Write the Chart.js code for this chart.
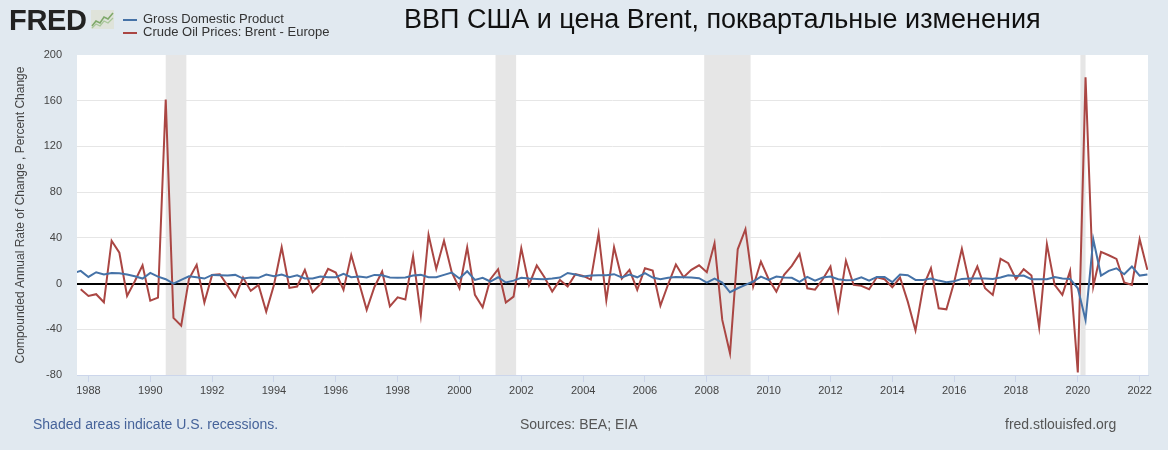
<!DOCTYPE html>
<html>
<head>
<meta charset="utf-8">
<script src="https://cdn.jsdelivr.net/npm/chart.js@4.4.1/dist/chart.umd.min.js"></script>
<style>
  html, body { margin:0; padding:0; }
  body { width:1168px; height:450px; background:#e1e9f0; position:relative; overflow:hidden; font-family:"Liberation Sans", Arial, sans-serif; }
  #wrap { position:absolute; left:0; top:0; width:1168px; height:450px; }
  .abs { position:absolute; white-space:nowrap; }
  #logo { left:9px; top:4px; font-weight:bold; font-size:29px; color:#222; letter-spacing:-0.3px; }
  #icon { left:91px; top:10px; }
  .lg { font-size:13px; color:#333; left:143px; }
  .lgl { position:absolute; left:123px; width:14px; height:2px; }
  #title { left:404px; top:4px; font-size:27px; color:#111; }
  .foot { font-size:14px; top:416px; }
</style>
</head>
<body>
<div id="wrap"><canvas id="c" width="1168" height="450"></canvas></div>
<div id="logo" class="abs">FRED</div>
<svg id="icon" class="abs" width="23" height="19" viewBox="0 0 23 19">
  <rect x="0" y="0" width="23" height="19" fill="#dfe3da"/>
  <polyline points="1,16 5,11 9,13 13,7 17,9 22,3" fill="none" stroke="#7fa86a" stroke-width="1.6"/>
  <polyline points="1,18 5,14 9,16 13,11 17,13 22,8" fill="none" stroke="#a9c79a" stroke-width="1.3"/>
</svg>
<div class="lgl" style="top:19px;background:#4572a7"></div>
<div class="lgl" style="top:32px;background:#aa4643"></div>
<div class="abs lg" style="top:11px">Gross Domestic Product</div>
<div class="abs lg" style="top:24px">Crude Oil Prices: Brent - Europe</div>
<div id="title" class="abs">ВВП США и цена Brent, поквартальные изменения</div>
<div class="abs foot" style="left:33px;color:#46639a">Shaded areas indicate U.S. recessions.</div>
<div class="abs foot" style="left:520px;color:#555">Sources: BEA; EIA</div>
<div class="abs foot" style="left:1005px;color:#555">fred.stlouisfed.org</div>
<script>
// Quarterly observations starting 1987 Q3
const firstQuarterYear = 1987, firstQuarterIndex = 2; // Q3
const gdp = [9.0,11.1,5.8,9.9,7.9,9.3,9.1,7.9,6.4,4.4,9.3,6.1,3.8,0,3.2,6.4,5.5,4.4,7.6,7.3,7.0,7.6,4.4,5.3,5.0,
  7.9,6.4,7.9,5.5,7.3,4.4,4.4,6.1,5.5,5.5,8.5,5.5,6.1,5.3,7.6,7.3,5.3,5.0,5.3,7.0,7.6,5.5,5.5,7.6,
  9.6,4.4,10.8,3.2,5.0,1.8,5.5,0.9,2.6,5.0,4.4,4.1,3.8,4.4,5.3,9.3,7.9,6.1,7.0,7.3,7.3,8.2,5.3,7.9,5.5,
  9.1,5.3,3.8,5.0,5.8,5.5,5.3,4.7,0.9,4.4,0.9,-7.6,-4.1,-1.2,1.8,6.1,3.2,6.1,5.3,5.0,1.5,5.8,2.6,5.3,
  6.1,3.8,2.9,3.2,5.5,2.6,5.8,5.8,1.2,7.9,7.3,3.2,3.2,4.4,2.6,1.2,2.0,4.1,4.4,4.4,4.4,4.1,5.3,7.3,6.7,
  7.0,3.8,3.8,3.8,5.8,4.4,4.1,-4.1,-31.8,38.8,7.0,11.1,13.4,8.2,14.9,7.0,7.9];
const brent = [null,-5,-10.8,-9.3,-16.4,37.4,27,-10.8,2,16,-15,-12.3,161,-30,-36.8,4,16.4,-16.6,7.6,8.2,-1.8,-11.7,5.3,-6.4,-1.2,
  -24.5,-1.2,31.8,-3.8,-2.6,12,-7.6,-0.6,12.8,9.6,-5.5,25,1,-23,-3,10.5,-20,-12,-14,24,-27.7,42.6,12.8,37.4,
  9.9,-4.1,31.8,-9.9,-20.7,3.8,12.6,-16.6,-11.4,31,-1.2,15.8,5.5,-7,3.2,-2.6,8.2,6.7,3.5,43.5,-14.6,31.8,4.4,12,-5.5,
  13.4,11.4,-19.3,-0.6,16.6,5.5,12,16,9.9,35.3,-31.8,-61,30,47.6,-2.6,19.3,3.8,-7,7.6,15.5,26,-4.1,-5.3,3.8,
  14.9,-23,20,-1.2,-2,-5,5.5,3.8,-3.2,5.3,-15.8,-41,-2.6,13.4,-21.6,-22.5,1.2,30.4,-0.3,14.9,-4.1,-9.9,21.6,17.8,3.8,
  12.6,7,-38.3,34.5,-1.2,-9.9,11.1,-77.7,180.5,-2.6,27.7,24.8,21.6,0.9,-1.2,38.8,12];
const yTicks = [-80,-40,0,40,80,120,160,200];
const xTickYears = [1988,1990,1992,1994,1996,1998,2000,2002,2004,2006,2008,2010,2012,2014,2016,2018,2020,2022];
// Recessions [start, end] as decimal years (month precision)
const recessions = [[1990+6/12,1991+2/12],[2001+2/12,2001+10/12],[2007+11/12,2009+5/12],[2020+1/12,2020+3/12]];
const xMin = 1987.63, xMax = 2022.27;

const quarters = gdp.map((_, i) => firstQuarterYear + (firstQuarterIndex + i) / 4);
const gdpPts = gdp.map((v, i) => ({x: quarters[i], y: v}));
const brentPts = brent.map((v, i) => ({x: quarters[i], y: v}));

const bgPlugin = {
  id: 'bg',
  beforeDraw(chart) {
    const {ctx, chartArea: a, scales: {x}} = chart;
    ctx.save();
    ctx.fillStyle = '#ffffff';
    ctx.fillRect(a.left, a.top, a.right - a.left, a.bottom - a.top);
    ctx.fillStyle = '#e6e6e6';
    recessions.forEach(([s, e]) => {
      const x0 = Math.max(x.getPixelForValue(s), a.left);
      const x1 = Math.min(x.getPixelForValue(e), a.right);
      ctx.fillRect(x0, a.top, x1 - x0, a.bottom - a.top);
    });
    ctx.restore();
  }
};

new Chart(document.getElementById('c'), {
  type: 'line',
  data: {
    datasets: [
      {label: 'Gross Domestic Product', data: gdpPts, borderColor: '#4572a7', borderWidth: 2, pointRadius: 0, tension: 0, spanGaps: false},
      {label: 'Crude Oil Prices: Brent - Europe', data: brentPts, borderColor: '#aa4643', borderWidth: 2, pointRadius: 0, tension: 0}
    ]
  },
  options: {
    responsive: false,
    animation: false,
    events: [],
    layout: {padding: {top: 55, right: 20, left: 0, bottom: 0}},
    plugins: {legend: {display: false}, tooltip: {enabled: false}},
    scales: {
      x: {
        type: 'linear', min: xMin, max: xMax,
        afterBuildTicks(s) { s.ticks = xTickYears.map(v => ({value: v})); },
        afterFit(s) { s.height = 75; },
        grid: {drawOnChartArea: false, drawTicks: true, tickLength: 7, tickColor: '#ccd6eb'},
        border: {display: true, color: '#ccd6eb', width: 1},
        ticks: {callback: v => String(v), font: {family: 'Liberation Sans', size: 11}, color: '#444', padding: 2, maxRotation: 0, autoSkip: false}
      },
      y: {
        min: -80, max: 200,
        afterBuildTicks(s) { s.ticks = yTicks.map(v => ({value: v})); },
        afterFit(s) { s.width = 77; },
        grid: {
          drawTicks: false,
          color: c => (c.tick && c.tick.value === 0) ? '#000000' : (c.tick && (c.tick.value === 200 || c.tick.value === -80) ? 'rgba(0,0,0,0)' : '#e6e6e6'),
          lineWidth: c => (c.tick && c.tick.value === 0) ? 2 : 1
        },
        border: {display: false},
        ticks: {font: {family: 'Liberation Sans', size: 11}, color: '#444', padding: 15},
        title: {display: true, text: 'Compounded Annual Rate of Change , Percent Change', font: {family: 'Liberation Sans', size: 12}, color: '#444', padding: {top: 13, bottom: 0}}
      }
    }
  },
  plugins: [bgPlugin]
});
</script>
</body>
</html>
